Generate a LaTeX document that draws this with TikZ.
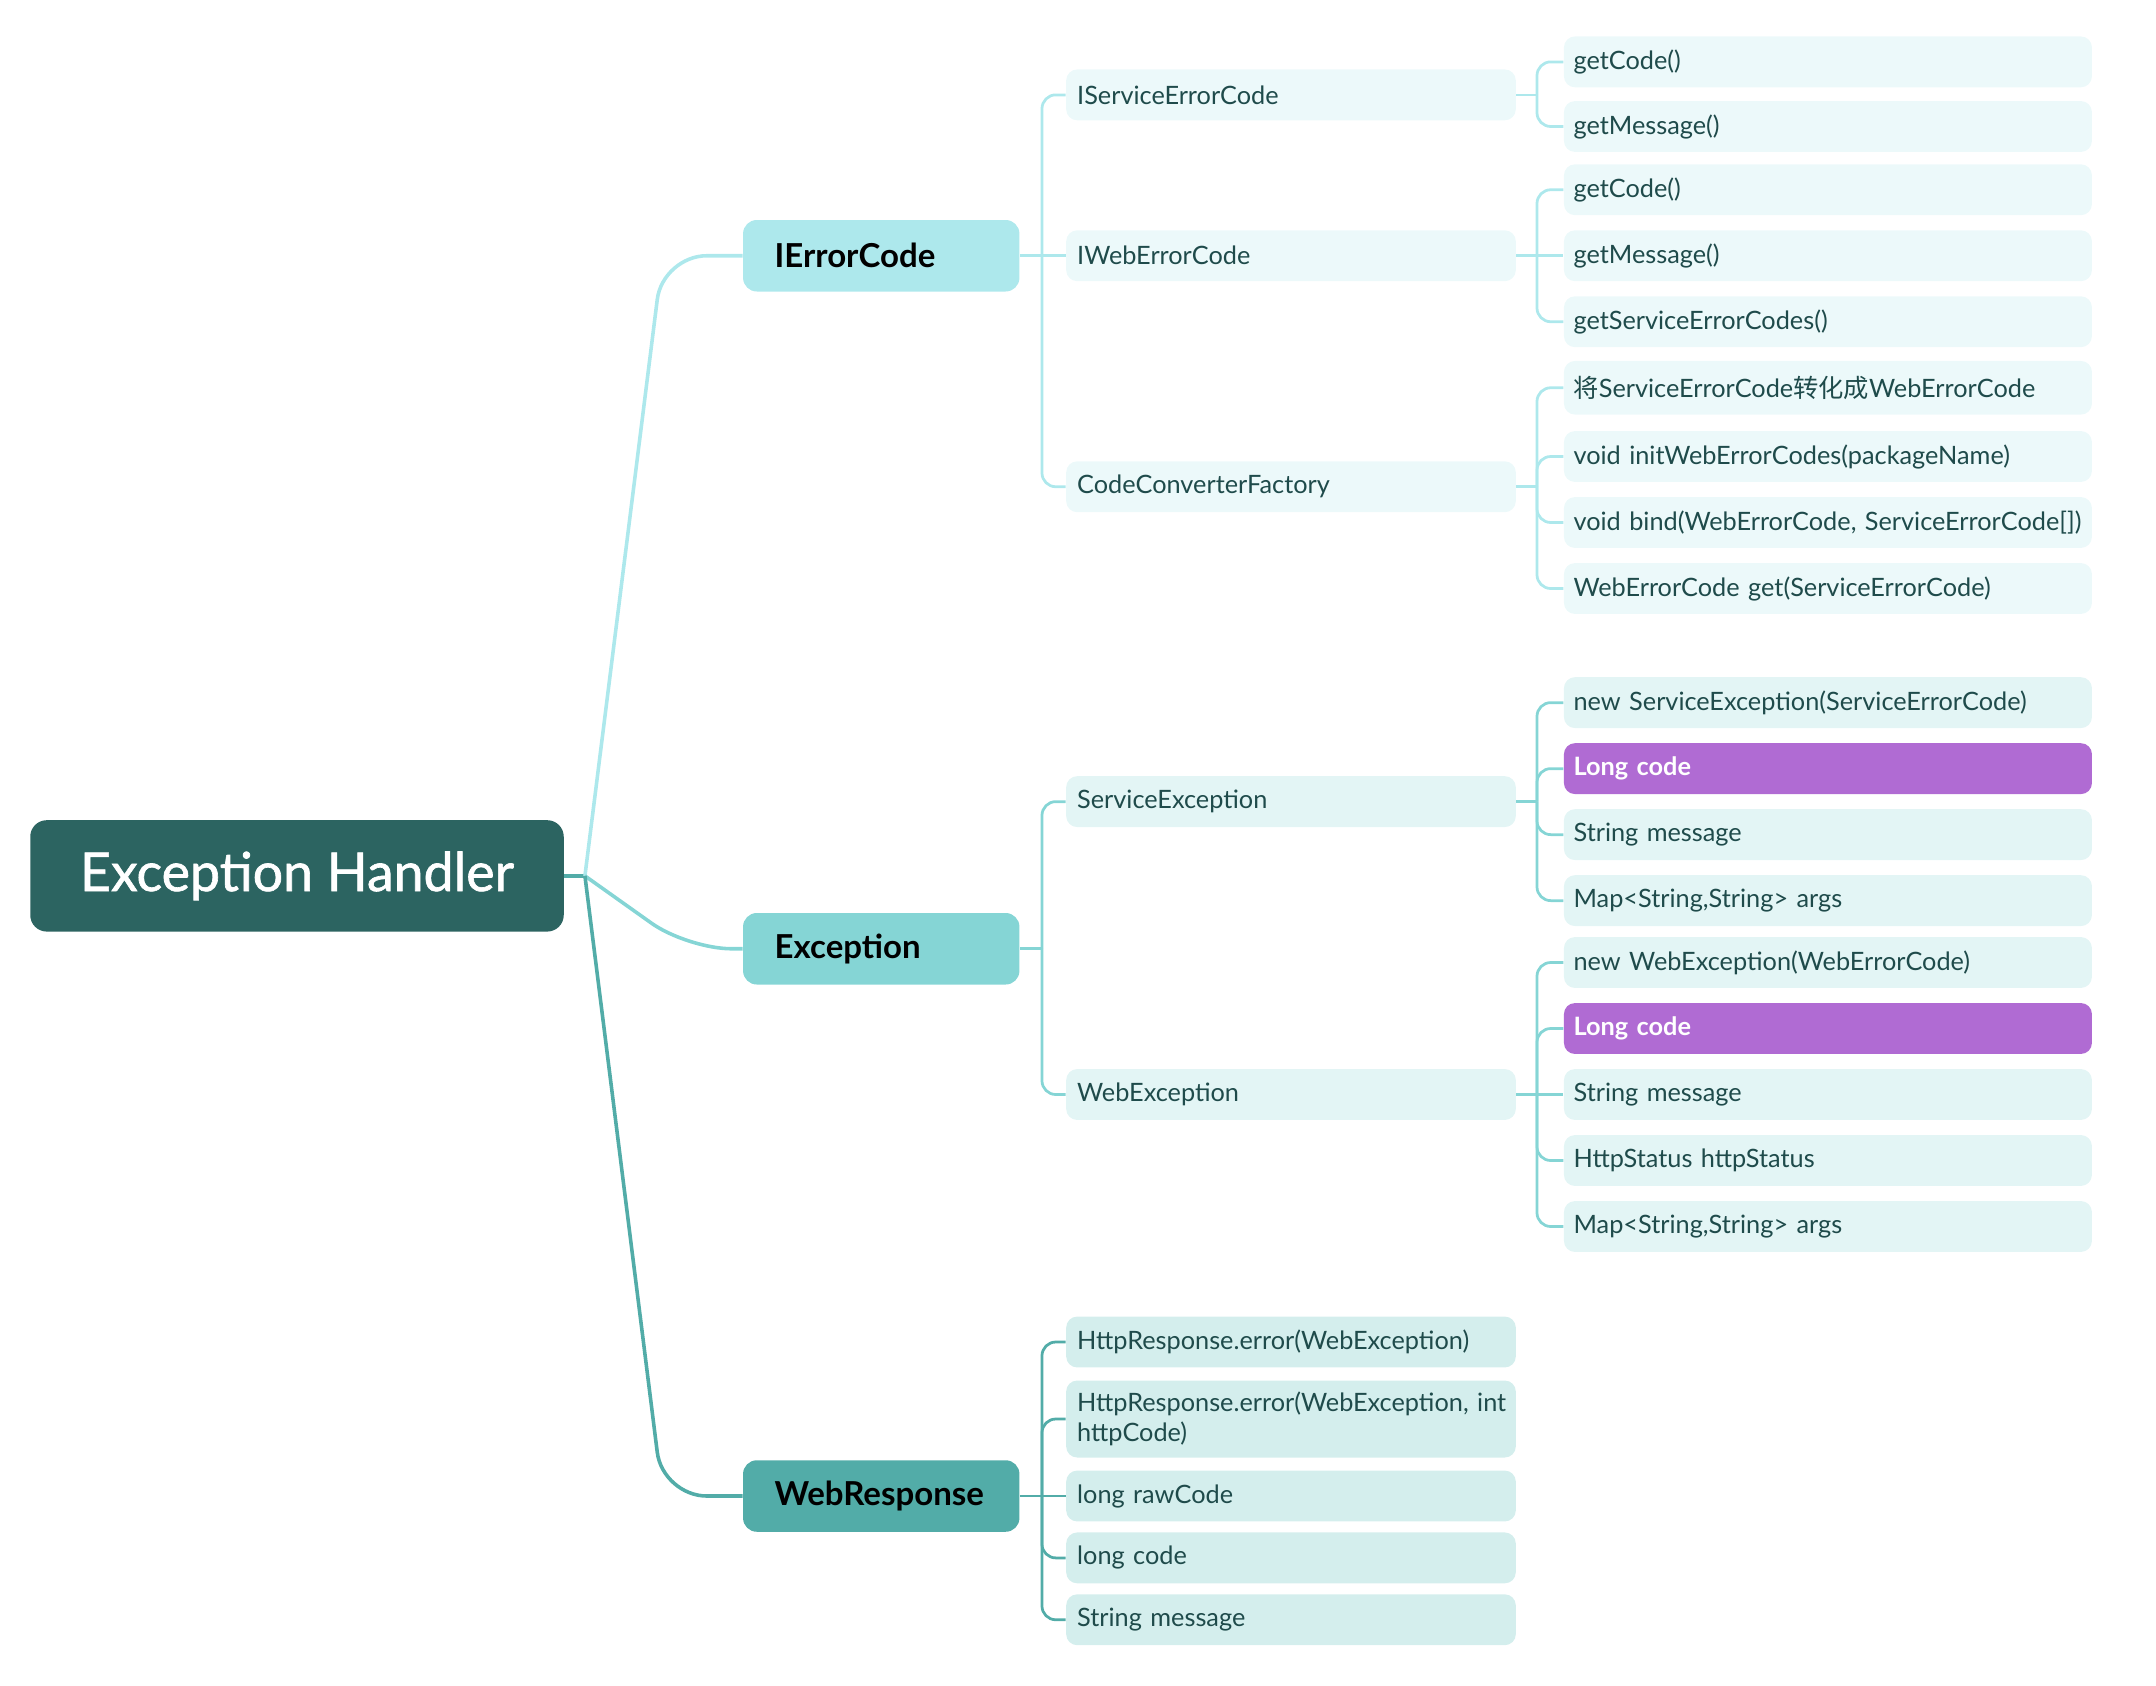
\documentclass[tikz,border=0pt]{standalone}
\usepackage{fontspec}
\setmainfont{Lato}
\newfontfamily\cjk{Noto Sans CJK SC}
\newfontfamily\rootfont{Lato}[FakeBold=1.2]
\usetikzlibrary{calc}
\definecolor{rootc}{HTML}{2C6461}
\definecolor{ierr}{HTML}{ADE8EC}
\definecolor{exc}{HTML}{85D5D5}
\definecolor{wr}{HTML}{52ACA8}
\definecolor{ierrL}{HTML}{ECF9FA}
\definecolor{excL}{HTML}{E3F5F5}
\definecolor{wrL}{HTML}{D4EEED}
\definecolor{txt}{HTML}{1F4B4B}
\definecolor{purp}{HTML}{B06BD3}
\tikzset{
  box/.style={rectangle, rounded corners=4pt, inner ysep=0pt, align=left, anchor=west, font=\fontsize{9.2}{11}\selectfont, text=txt},
  lthree/.style={box, minimum height=18.5pt, inner xsep=3.5pt, text width=185pt, fill=#1},
  ltwo/.style={box, minimum height=18.5pt, inner xsep=4pt, text width=155.5pt, fill=#1},
  hilite/.style={lthree=purp, text=white, font=\fontsize{9.2}{11}\selectfont\bfseries},
  lone/.style={rectangle, rounded corners=5pt, anchor=west, minimum height=26pt, inner xsep=11.5pt, text width=77.5pt, align=left, font=\fontsize{12}{14}\selectfont\bfseries, fill=#1, text=black},
  rootbox/.style={rectangle, rounded corners=6pt, fill=rootc, minimum width=194pt, minimum height=40.5pt, text=white, font=\rootfont\fontsize{19.5}{22}\selectfont},
  cone/.style={line width=1.3pt, draw=#1, rounded corners=16pt},
  ctwo/.style={line width=1pt, draw=#1, rounded corners=5pt},
}
\begin{document}
\begin{tikzpicture}[x=0.5pt,y=-0.5pt]
\useasboundingbox (0,0) rectangle (1568,1226);
% root
\node[rootbox] (root) at (216,637) {Exception Handler};
% level 1
\node[lone=ierr] (ierrc) at (540,186) {IErrorCode};
\node[lone=exc] (excp) at (540,690) {Exception};
\node[lone=wr] (webr) at (540,1088) {WebResponse};
% level 2
\node[ltwo=ierrL] (isec) at (775,69) {IServiceErrorCode};
\node[ltwo=ierrL] (iwec) at (775,186) {IWebErrorCode};
\node[ltwo=ierrL] (ccf) at (775,354) {CodeConverterFactory};
\node[ltwo=excL] (sexc) at (775,583) {ServiceException};
\node[ltwo=excL] (wexc) at (775,796) {WebException};
\node[ltwo=wrL] (wra) at (775,976) {HttpResponse.error(WebException)};
\node[ltwo=wrL, minimum height=28pt] (wrb) at (775,1032) {\makebox[0pt][l]{HttpResponse.error(WebException, int}\\httpCode)};
\node[ltwo=wrL] (wrc) at (775,1088) {long rawCode};
\node[ltwo=wrL] (wrd) at (775,1133) {long code};
\node[ltwo=wrL] (wre) at (775,1178) {String message};
% level 3
\node[lthree=ierrL] (a1) at (1137,45) {getCode()};
\node[lthree=ierrL] (a2) at (1137,92) {getMessage()};
\node[lthree=ierrL] (b1) at (1137,138) {getCode()};
\node[lthree=ierrL] (b2) at (1137,186) {getMessage()};
\node[lthree=ierrL] (b3) at (1137,234) {getServiceErrorCodes()};
\node[lthree=ierrL, minimum height=19.5pt] (c1) at (1137,282) {{\cjk 将}ServiceErrorCode{\cjk 转化成}WebErrorCode};
\node[lthree=ierrL] (c2) at (1137,332) {void initWebErrorCodes(packageName)};
\node[lthree=ierrL] (c3) at (1137,380) {void bind(WebErrorCode, ServiceErrorCode[])};
\node[lthree=ierrL] (c4) at (1137,428) {WebErrorCode get(ServiceErrorCode)};
\node[lthree=excL] (d1) at (1137,511) {new ServiceException(ServiceErrorCode)};
\node[hilite] (d2) at (1137,559) {Long code};
\node[lthree=excL] (d3) at (1137,607) {String message};
\node[lthree=excL] (d4) at (1137,655) {Map<String,String> args};
\node[lthree=excL] (e1) at (1137,700) {new WebException(WebErrorCode)};
\node[hilite] (e2) at (1137,748) {Long code};
\node[lthree=excL] (e3) at (1137,796) {String message};
\node[lthree=excL] (e4) at (1137,844) {HttpStatus httpStatus};
\node[lthree=excL] (e5) at (1137,892) {Map<String,String> args};
% hubs
\coordinate (h0) at ($(root.east)+(7.5pt,0)$);
\coordinate (hI) at ($(ierrc.east)+(8pt,0)$);
\coordinate (hE) at ($(excp.east)+(8pt,0)$);
\coordinate (hW) at ($(webr.east)+(8pt,0)$);
\coordinate (hA) at ($(isec.east)+(7.5pt,0)$);
\coordinate (hB) at ($(iwec.east)+(7.5pt,0)$);
\coordinate (hC) at ($(ccf.east)+(7.5pt,0)$);
\coordinate (hD) at ($(sexc.east)+(7.5pt,0)$);
\coordinate (hF) at ($(wexc.east)+(7.5pt,0)$);
\coordinate (kI) at (482,186);
\coordinate (kE) at (500,690);
\coordinate (kW) at (482,1088);
% root connectors
\draw[line width=1.3pt, draw=wr] (root.east) -- (h0);
\draw[cone=ierr] (h0) -- (kI) -- (ierrc.west);
\draw[cone=exc] (h0) -- (kE) -- (excp.west);
\draw[cone=wr] (h0) -- (kW) -- (webr.west);
% level1 -> level2
\draw[ctwo=ierr] (ierrc.east) -- (hI);
\draw[ctwo=ierr] (hI) |- (isec.west);
\draw[ctwo=ierr] (hI) -- (iwec.west);
\draw[ctwo=ierr] (hI) |- (ccf.west);
\draw[ctwo=exc] (excp.east) -- (hE);
\draw[ctwo=exc] (hE) |- (sexc.west);
\draw[ctwo=exc] (hE) |- (wexc.west);
\draw[ctwo=wr] (webr.east) -- (hW);
\foreach \c in {wra,wrb,wrd,wre} \draw[ctwo=wr] (hW) |- (\c.west);
\draw[ctwo=wr] (hW) -- (wrc.west);
% level2 -> level3
\draw[ctwo=ierr] (isec.east) -- (hA);
\foreach \c in {a1,a2} \draw[ctwo=ierr] (hA) |- (\c.west);
\draw[ctwo=ierr] (iwec.east) -- (hB);
\foreach \c in {b1,b3} \draw[ctwo=ierr] (hB) |- (\c.west);
\draw[ctwo=ierr] (hB) -- (b2.west);
\draw[ctwo=ierr] (ccf.east) -- (hC);
\foreach \c in {c1,c2,c3,c4} \draw[ctwo=ierr] (hC) |- (\c.west);
\draw[ctwo=exc] (sexc.east) -- (hD);
\foreach \c in {d1,d2,d3,d4} \draw[ctwo=exc] (hD) |- (\c.west);
\draw[ctwo=exc] (wexc.east) -- (hF);
\foreach \c in {e1,e2,e4,e5} \draw[ctwo=exc] (hF) |- (\c.west);
\draw[ctwo=exc] (hF) -- (e3.west);
\end{tikzpicture}
\end{document}
